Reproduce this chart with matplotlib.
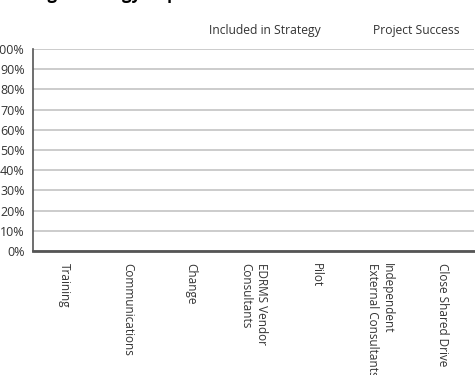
import matplotlib.pyplot as plt
import numpy as np

plt.rcParams['font.family'] = ['Open Sans', 'DejaVu Sans']

# Data
categories = ["Training", "Communications", "Change", "EDRMS Vendor\nConsultants",
              "Pilot", "Independent\nExternal Consultants", "Close Shared Drive"]
included_in_strategy = [0, 0, 0, 0, 0, 0, 0]
project_success = [0, 0, 0, 0, 0, 0, 0]
y_ticks = [0, 0.1, 0.2, 0.3, 0.4, 0.5, 0.6, 0.7, 0.8, 0.9, 1.0]
y_labels = ["0%", "10%", "20%", "30%", "40%", "50%", "60%", "70%", "80%", "90%", "100%"]

fig = plt.figure(figsize=(4.75, 3.75), dpi=100)
ax = fig.add_axes([0.0695, 0.331, 0.929, 0.538])

x = np.arange(len(categories))
w = 0.35
b1 = ax.bar(x - w / 2, included_in_strategy, w, color="#ffffff", label="Included in Strategy")
b2 = ax.bar(x + w / 2, project_success, w, color="#ffffff", label="Project Success")

ax.set_xlim(-0.5, len(categories) - 0.5)
ax.set_ylim(0, 1.0)
ax.set_yticks(y_ticks)
ax.set_yticklabels(y_labels, fontsize=9, color="#333333")
ax.set_xticks(x)
ax.set_xticklabels(categories, rotation=270, fontsize=8.5, ha="center", va="top",
                   multialignment="left", color="#333333")
ax.tick_params(length=0)
ax.tick_params(axis="y", pad=6)
ax.tick_params(axis="x", pad=9)

ax.grid(axis="y", color="#c8c8c8", linewidth=1.3)
ax.set_axisbelow(True)
for s in ["top", "right"]:
    ax.spines[s].set_visible(False)
ax.spines["left"].set_color("#555555")
ax.spines["left"].set_linewidth(1.2)
ax.spines["bottom"].set_color("#555555")
ax.spines["bottom"].set_linewidth(2)

# legend without swatches
fig.text(0.557, 0.918, "Included in Strategy", fontsize=8.7, ha="center", va="center", color="#333333")
fig.text(0.877, 0.918, "Project Success", fontsize=8.7, ha="center", va="center", color="#333333")

# title, cut off at the top edge
fig.text(0.01, 1.003, "Change Strategy Impact", fontsize=12, fontweight="bold",
         ha="left", va="baseline")

fig.savefig("out.png", dpi=100)
